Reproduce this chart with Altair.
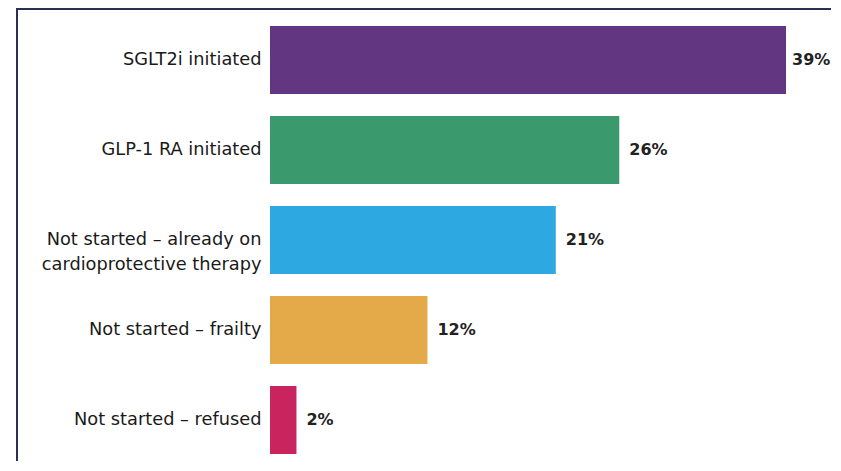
import altair as alt
import pandas as pd

categories = [
    "SGLT2i initiated",
    "GLP-1 RA initiated",
    "Not started \u2013 already on\ncardioprotective therapy",
    "Not started \u2013 frailty",
    "Not started \u2013 refused",
]
# bar lengths (percent)
values = [39.0, 26.4, 21.6, 11.9, 2.0]
labels = ["39%", "26%", "21%", "12%", "2%"]
colors = ["#633682", "#3a9a6e", "#2ea8e0", "#e4aa4a", "#c9245d"]

df = pd.DataFrame({"cat": categories, "val": values, "lab": labels, "col": colors})

W = 516
H = 437

y_enc = alt.Y(
    "cat:N",
    sort=None,
    title=None,
    scale=alt.Scale(paddingInner=0.2444, paddingOuter=0.05),
    axis=alt.Axis(
        domain=False,
        ticks=False,
        labelFontSize=17.8,
        labelFont="DejaVu Sans",
        labelColor="#1a1a1a",
        labelPadding=9,
        labelLineHeight=25,
        labelLimit=400,
        labelExpr="split(datum.value, '\\n')",
    ),
)
x_enc = alt.X("val:Q", title=None, axis=None,
              scale=alt.Scale(domain=[0, 39], nice=False, zero=True))

base = alt.Chart(df)

bars = base.mark_bar(strokeWidth=0).encode(
    y=y_enc,
    x=x_enc,
    color=alt.Color("col:N", scale=None),
)

text_style = dict(align="left", baseline="middle", fontSize=16,
                  fontWeight="bold", font="DejaVu Sans", color="#222222")
text_enc = dict(y=alt.Y("cat:N", sort=None), x=alt.X("val:Q"), text="lab:N")

text_top = base.mark_text(dx=6, **text_style).encode(**text_enc).transform_filter(
    "datum.val >= 39"
)
text_rest = base.mark_text(dx=10, **text_style).encode(**text_enc).transform_filter(
    "datum.val < 39"
)

frame_top = base.mark_rule(color="#2b3154", strokeWidth=2, clip=False).encode(
    x=alt.value(-253), x2=alt.value(700), y=alt.value(-12.5)
)
frame_left = base.mark_rule(color="#2b3154", strokeWidth=2, clip=False).encode(
    x=alt.value(-253), y=alt.value(-13.5), y2=alt.value(470)
)

chart = alt.layer(frame_top, frame_left, bars, text_top, text_rest).properties(
    width=W,
    height=H,
    background="white",
    padding={"left": 262, "top": 13.5, "right": 45, "bottom": 2},
    autosize=alt.AutoSizeParams(type="none"),
).configure_view(strokeWidth=0, stroke="transparent")

chart.save("out.html", embed_options={"renderer": "svg", "actions": False})
